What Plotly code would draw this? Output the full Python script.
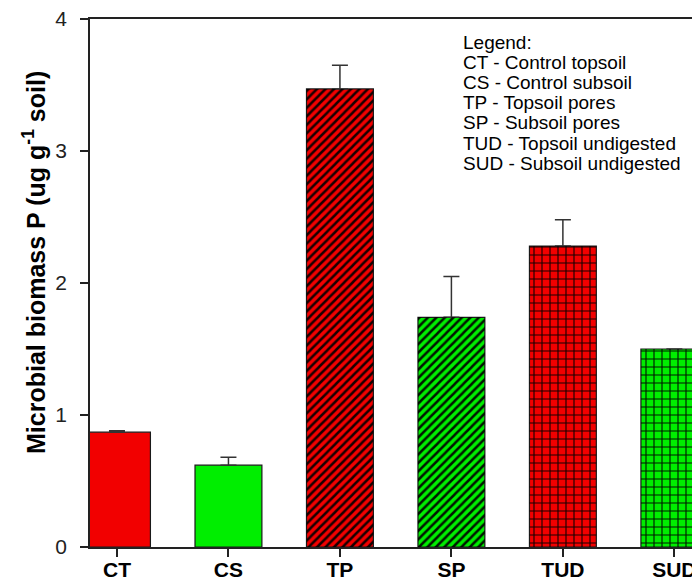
import plotly.graph_objects as go

categories = ["CT", "CS", "TP", "SP", "TUD", "SUD"]
values = [0.87, 0.62, 3.47, 1.74, 2.28, 1.50]
err_plus = [0.01, 0.06, 0.18, 0.31, 0.20, 0.0]
bar_colors = ["#F20000", "#00EE00", "#F20000", "#00EE00", "#F20000", "#00EE00"]
patterns = ["", "", "/", "/", "+", "+"]
legend_lines = [
    "Legend:",
    "CT - Control topsoil",
    "CS - Control subsoil",
    "TP - Topsoil pores",
    "SP - Subsoil pores",
    "TUD - Topsoil undigested",
    "SUD - Subsoil undigested",
]
y_ticks = [0, 1, 2, 3, 4]

FONT = "Arial, Liberation Sans, sans-serif"

# the figure sits ~8px into the page (body margin)
W, H = 692, 572
ML, MR, MT, MB = 82, 0, 11, 33
PW = W - ML - MR
PH = H - MT - MB

xs = list(range(len(categories)))

fig = go.Figure()
# solid coloured bars with outline and error bars
fig.add_trace(go.Bar(
    x=xs, y=values, width=0.6,
    marker=dict(color=bar_colors, line=dict(color="#1a1a1a", width=1.2)),
    error_y=dict(type="data", symmetric=False, array=err_plus,
                 arrayminus=[0] * len(values), color="#333333",
                 thickness=1.5, width=8),
    showlegend=False, hoverinfo="skip",
))
# black hatch overlay
fig.add_trace(go.Bar(
    x=xs, y=values, width=0.6,
    marker=dict(
        color="rgba(0,0,0,0)", line=dict(width=0),
        pattern=dict(shape=patterns, fgcolor="#000000", bgcolor="rgba(0,0,0,0)",
                     fgopacity=0.9,
                     size=[7, 7, 6, 6, 8, 8],
                     solidity=[0.3, 0.3, 0.42, 0.42, 0.26, 0.26],
                     fillmode="replace"),
    ),
    showlegend=False,
))

# legend text block, one line per annotation
for i, line in enumerate(legend_lines):
    ypix = 34 + 20.2 * i  # figure pixels from top
    fig.add_annotation(
        xref="paper", yref="paper",
        x=(453 - ML) / PW, y=1 - (ypix - MT) / PH,
        xanchor="left", yanchor="middle", align="left", showarrow=False,
        text=line, font=dict(family=FONT, size=19, color="black"),
    )

# y-axis title
fig.add_annotation(
    xref="paper", yref="paper",
    x=(26 - ML) / PW, y=1 - (255 - MT) / PH,
    xanchor="center", yanchor="middle", textangle=-90, showarrow=False,
    text="Microbial biomass P (ug g<sup>-1</sup> soil)",
    font=dict(family=FONT, size=25, color="black", weight="bold"),
)

fig.update_layout(
    width=W, height=H, barmode="overlay",
    margin=dict(l=ML, r=MR, t=MT, b=MB, pad=0, autoexpand=False),
    plot_bgcolor="white", paper_bgcolor="white",
    font=dict(family=FONT, color="black"),
)
fig.update_xaxes(
    range=[-0.242, 5.23], automargin=False,
    tickmode="array", tickvals=xs, ticktext=categories,
    tickfont=dict(family=FONT, size=21, color="black", weight="bold"),
    showline=True, linecolor="#222222", linewidth=1.5, mirror=True,
    ticks="outside", ticklen=8, tickcolor="#222222", tickwidth=1.5,
    ticklabelstandoff=-5, ticklabeloverflow="allow",
    showgrid=False, zeroline=False,
)
fig.update_yaxes(
    range=[0, 4], automargin=False,
    tickmode="array", tickvals=y_ticks,
    tickfont=dict(family=FONT, size=21, color="#222222"),
    showline=True, linecolor="#222222", linewidth=1.5, mirror=False,
    ticks="outside", ticklen=8, tickcolor="#222222", tickwidth=1.5,
    ticklabelstandoff=9, ticklabeloverflow="allow",
    showgrid=False, zeroline=False,
)

fig.write_html("out.html")
